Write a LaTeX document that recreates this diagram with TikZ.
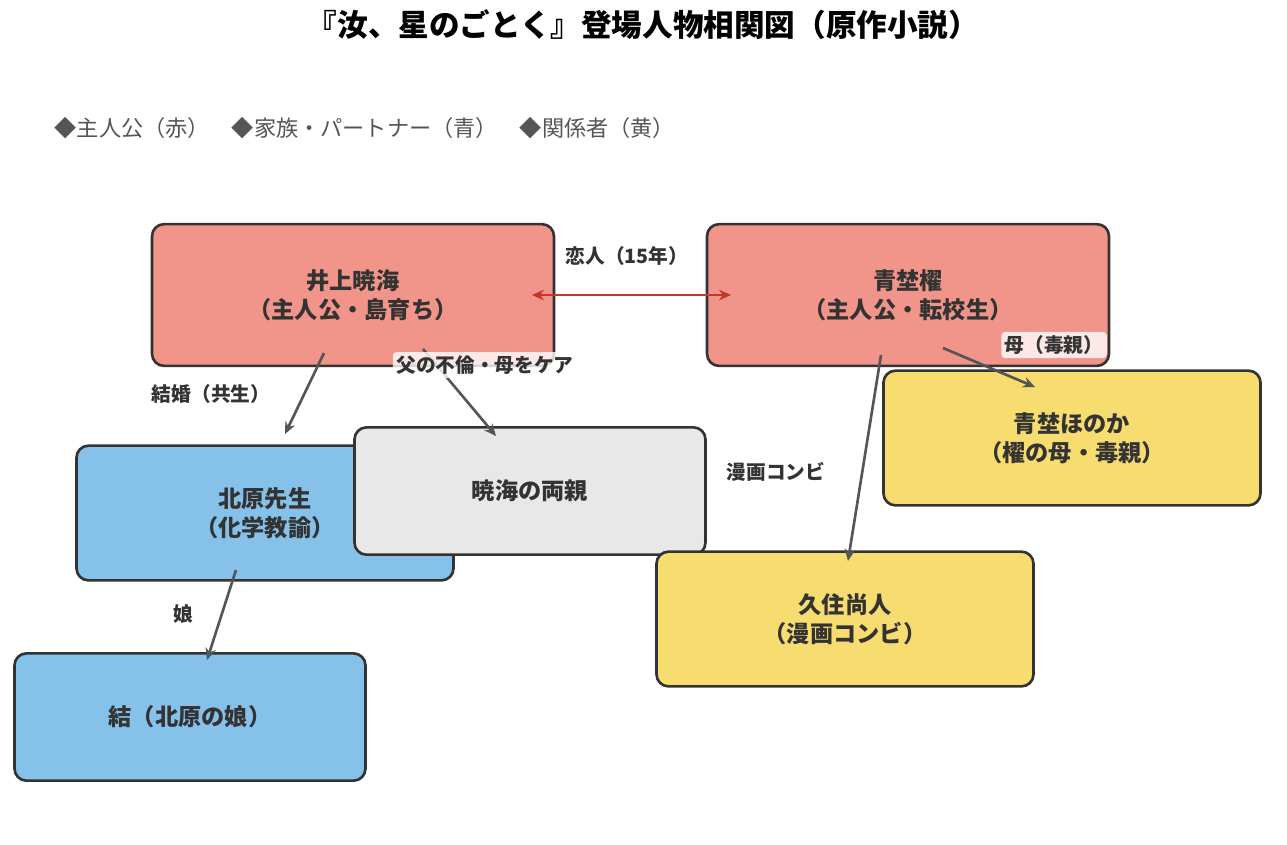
\documentclass[tikz,border=0pt]{standalone}
\usepackage{fontspec}
\setmainfont{Noto Sans CJK JP}
\usetikzlibrary{arrows.meta}
\definecolor{redfill}{HTML}{F1948A}
\definecolor{bluefill}{HTML}{85C1E9}
\definecolor{yellowfill}{HTML}{F7DC6F}
\definecolor{grayfill}{HTML}{E8E8E8}
\definecolor{edgegray}{HTML}{555555}
\definecolor{loverred}{HTML}{C0392B}
\definecolor{textdark}{HTML}{333333}
\tikzset{
  person/.style={draw=textdark,line width=0.75pt,rounded corners=3.4pt,align=center,
    font=\fontsize{6.6pt}{8.2pt}\selectfont\bfseries,text=textdark,inner sep=0pt},
  big/.style={minimum width=114.3pt,minimum height=40.3pt},
  mid/.style={minimum width=107.2pt,minimum height=38.3pt},
  small/.style={minimum width=99.8pt,minimum height=36.2pt},
  rel/.style={draw=edgegray,line width=0.75pt,-{Stealth[length=3.4pt,width=3pt]}},
  lbl/.style={font=\fontsize{5.6pt}{7pt}\selectfont\bfseries,text=textdark,inner sep=1pt}
}
\begin{document}
\begin{tikzpicture}[x=0.01cm,y=-0.01cm]
\useasboundingbox (0,0) rectangle (1287,844);

\node[font=\fontsize{8.7pt}{10pt}\selectfont\bfseries] (title) at (643,25) {『汝、星のごとく』登場人物相関図（原作小説）};
\node[anchor=west,text=edgegray,font=\fontsize{6.3pt}{8pt}\selectfont,inner sep=0pt] (legend) at (54,128)
  {◆主人公（赤）\quad ◆家族・パートナー（青）\quad ◆関係者（黄）};

% people
\node[person,big,fill=redfill] (akimi) at (353,295) {井上暁海\\（主人公・島育ち）};
\node[person,big,fill=redfill] (kai) at (908,295) {青埜櫂\\（主人公・転校生）};
\node[person,mid,fill=yellowfill] (honoka) at (1072,438) {青埜ほのか\\（櫂の母・毒親）};
\node[person,mid,fill=bluefill] (kitahara) at (265,513) {北原先生\\（化学教諭）};
\node[person,small,fill=grayfill] (parents) at (530,491) {暁海の両親};
\node[person,mid,fill=yellowfill] (naoto) at (845,619) {久住尚人\\（漫画コンビ）};
\node[person,small,fill=bluefill] (yui) at (190,717) {結（北原の娘）};

% arrow ends
\coordinate (a1) at (532,295); \coordinate (a2) at (731,295);
\coordinate (b1) at (324,353); \coordinate (b2) at (285,434);
\coordinate (c1) at (423,349); \coordinate (c2) at (496,436);
\coordinate (d1) at (881,355); \coordinate (d2) at (848,561);
\coordinate (e1) at (943,348); \coordinate (e2) at (1035,387);
\coordinate (f1) at (236,570); \coordinate (f2) at (207,660);

\draw[draw=loverred,line width=0.75pt,{Stealth[length=3.4pt,width=3pt]}-{Stealth[length=3.4pt,width=3pt]}] (a1) -- (a2);
\draw[rel] (b1) -- (b2);
\draw[rel] (c1) -- (c2);
\draw[rel] (d1) -- (d2);
\draw[rel] (e1) -- (e2);
\draw[rel] (f1) -- (f2);

% labels
\node[lbl] (l1) at (627,256) {恋人（15年）};
\node[lbl] (l2) at (211,394) {結婚（共生）};
\node[lbl,fill=white,fill opacity=0.8,text opacity=1,rounded corners=1pt] (l3) at (485,365) {父の不倫・母をケア};
\node[lbl] (l4) at (776,472) {漫画コンビ};
\node[lbl,fill=white,fill opacity=0.8,text opacity=1,rounded corners=1pt] (l5) at (1054,345) {母（毒親）};
\node[lbl] (l6) at (183,614) {娘};
\end{tikzpicture}
\end{document}
